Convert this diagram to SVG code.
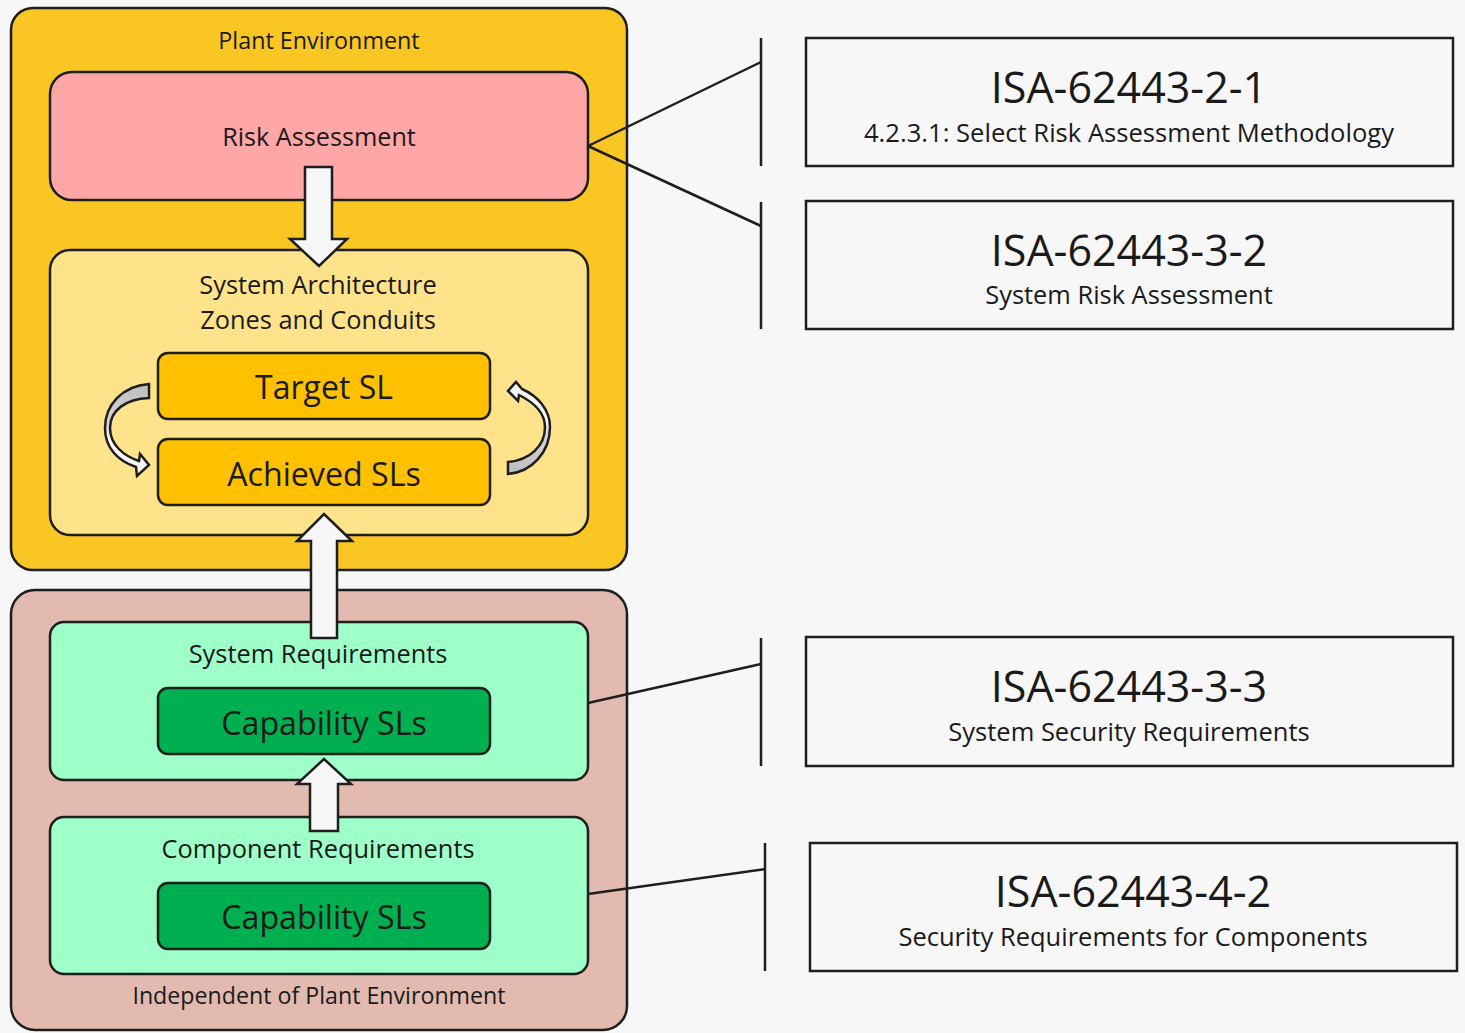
<svg xmlns="http://www.w3.org/2000/svg" width="1465" height="1033" viewBox="0 0 1465 1033">
<defs>
<style>
.box{stroke:#1e1e1e;stroke-width:2.5}
.t{font-family:"Open Sans","DejaVu Sans",sans-serif;fill:#1a1a1a;text-anchor:middle}
.ln{stroke:#1e1e1e;stroke-width:2.5;fill:none}
.arr{fill:#f7f7f7;stroke:#1e1e1e;stroke-width:2.5;stroke-linejoin:miter}
</style>
<linearGradient id="gL" x1="0" y1="0" x2="0" y2="1">
<stop offset="0" stop-color="#bdbdbd"/><stop offset="0.45" stop-color="#d9d9d9"/><stop offset="0.6" stop-color="#ffffff"/><stop offset="1" stop-color="#f2f2f2"/>
</linearGradient>
<linearGradient id="gR" x1="0" y1="1" x2="0" y2="0">
<stop offset="0" stop-color="#bdbdbd"/><stop offset="0.45" stop-color="#d9d9d9"/><stop offset="0.6" stop-color="#ffffff"/><stop offset="1" stop-color="#f2f2f2"/>
</linearGradient>
</defs>
<rect width="1465" height="1033" fill="#f7f7f7"/>

<g id="plant-environment">
<rect class="box" x="11" y="8" width="616" height="562" rx="22" fill="#f9c623"/>
<text class="t" x="319" y="49" font-size="23.3">Plant Environment</text>
</g>
<g id="risk-assessment">
<rect class="box" x="50" y="72" width="538" height="128" rx="22" fill="#ffa6a6"/>
<text class="t" x="319" y="146" font-size="25.2">Risk Assessment</text>
</g>
<g id="system-architecture">
<rect class="box" x="50" y="250" width="538" height="285" rx="20" fill="#ffe38a"/>
<text class="t" x="318" y="294" font-size="25.4">System Architecture</text>
<text class="t" x="318" y="329" font-size="25.4">Zones and Conduits</text>
</g>
<g id="target-sl">
<rect class="box" x="158" y="353" width="332" height="66" rx="10" fill="#ffc000"/>
<text class="t" x="324" y="399" font-size="32">Target SL</text>
</g>
<g id="achieved-sls">
<rect class="box" x="158" y="439" width="332" height="66" rx="10" fill="#ffc000"/>
<text class="t" x="324" y="486" font-size="32.2">Achieved SLs</text>
</g>

<g id="independent">
<rect class="box" x="11" y="590" width="616" height="440" rx="24" fill="#e2bab0"/>
<text class="t" x="319" y="1004" font-size="23.2">Independent of Plant Environment</text>
</g>
<g id="system-requirements">
<rect class="box" x="50" y="622" width="538" height="158" rx="14" fill="#9fffc9"/>
<text class="t" x="318" y="663" font-size="25.4">System Requirements</text>
</g>
<g id="capability-sls-1">
<rect class="box" x="158" y="688" width="332" height="66" rx="10" fill="#00b050"/>
<text class="t" x="324" y="735" font-size="32.2">Capability SLs</text>
</g>
<g id="component-requirements">
<rect class="box" x="50" y="817" width="538" height="157" rx="14" fill="#9fffc9"/>
<text class="t" x="318" y="858" font-size="25.4">Component Requirements</text>
</g>
<g id="capability-sls-2">
<rect class="box" x="158" y="883" width="332" height="66" rx="10" fill="#00b050"/>
<text class="t" x="324" y="929" font-size="32.2">Capability SLs</text>
</g>

<g id="isa-2-1">
<rect class="box" x="806" y="38" width="647" height="128" fill="none"/>
<text class="t" x="1129" y="103" font-size="43">ISA-62443-2-1</text>
<text class="t" x="1129" y="142" font-size="25.6">4.2.3.1: Select Risk Assessment Methodology</text>
</g>
<g id="isa-3-2">
<rect class="box" x="806" y="201" width="647" height="128" fill="none"/>
<text class="t" x="1129" y="266" font-size="43">ISA-62443-3-2</text>
<text class="t" x="1129" y="304" font-size="25.4">System Risk Assessment</text>
</g>
<g id="isa-3-3">
<rect class="box" x="806" y="637" width="647" height="129" fill="none"/>
<text class="t" x="1129" y="702" font-size="43">ISA-62443-3-3</text>
<text class="t" x="1129" y="741" font-size="25.5">System Security Requirements</text>
</g>
<g id="isa-4-2">
<rect class="box" x="810" y="843" width="647" height="128" fill="none"/>
<text class="t" x="1133" y="907" font-size="43">ISA-62443-4-2</text>
<text class="t" x="1133" y="946" font-size="25.5">Security Requirements for Components</text>
</g>

<g id="connectors">
<path class="arr" d="M305,167 H332 V239 H347 L319,266 L290,239 H305 Z"/>
<path class="arr" d="M311,638 V541 H297 L324,514 L352,541 H337 V638 Z"/>
<path class="arr" d="M310,831 V784 H297 L324,759 L351,784 H338 V831 Z"/>
<path fill="url(#gL)" stroke="#1e1e1e" stroke-width="2.5" stroke-linejoin="miter" d="M149,384 C122,386 105,405 105,428 C105,448 118,461 136,467 L137,476 L149,465 L140,454 L139,461 C124,456 110,445 110,428 C110,410 126,399 149,398 Z"/>
<path fill="url(#gR)" stroke="#1e1e1e" stroke-width="2.5" stroke-linejoin="miter" d="M508,474 C532,472 550,452 550,427 C550,410 538,396 522,389 L516,382 L508,391 L518,401 L519,395 C533,402 545,412 545,427 C545,446 530,460 508,462 Z"/>
<line class="ln" x1="761" y1="38" x2="761" y2="166"/>
<line class="ln" x1="761" y1="202" x2="761" y2="329"/>
<line class="ln" x1="761" y1="638" x2="761" y2="766"/>
<line class="ln" x1="765" y1="843" x2="765" y2="971"/>
<line class="ln" x1="588" y1="146" x2="761" y2="62"/>
<line class="ln" x1="588" y1="146" x2="761" y2="226"/>
<line class="ln" x1="588" y1="703" x2="761" y2="664"/>
<line class="ln" x1="588" y1="894" x2="765" y2="869"/>
</g>
</svg>
